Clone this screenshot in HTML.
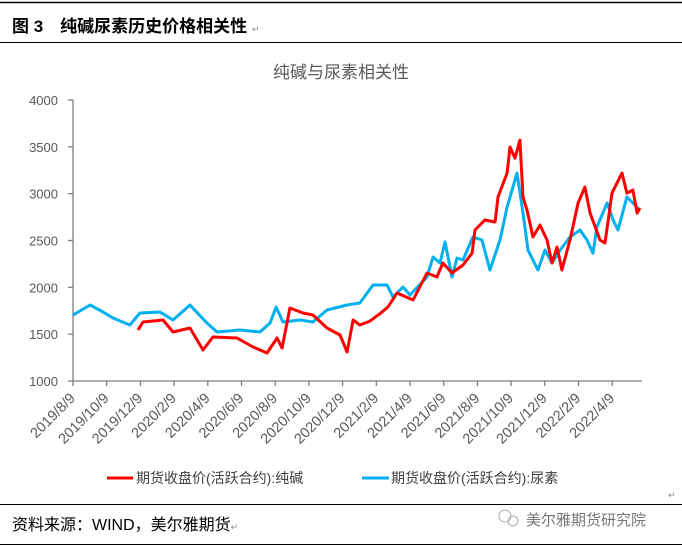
<!DOCTYPE html>
<html><head><meta charset="utf-8">
<style>
body{margin:0;width:682px;height:546px;background:#fff;overflow:hidden;font-family:"Liberation Sans","Noto Sans CJK SC",sans-serif;}
svg{display:block}
</style></head>
<body>
<svg id="chart" width="682" height="546" xmlns="http://www.w3.org/2000/svg">
<line x1="0" y1="2.5" x2="682" y2="2.5" stroke="#000" stroke-width="1.5"/>
<text x="12" y="32" font-size="17" font-weight="bold" fill="#000" font-family="Liberation Sans,Noto Sans CJK SC,sans-serif">图 3　纯碱尿素历史价格相关性 <tspan font-size="9" font-weight="normal" fill="#888">↵</tspan></text>
<line x1="0" y1="42.5" x2="682" y2="42.5" stroke="#000" stroke-width="1"/>
<text x="341" y="78" text-anchor="middle" font-size="17" fill="#595959">纯碱与尿素相关性</text>
<g id="yaxis"></g>
<g id="xaxis"></g>
<g id="series"></g>
<g>
 <g>
  <line x1="107" y1="478" x2="133" y2="478" stroke="#ff0000" stroke-width="3"/>
  <text x="136" y="483" font-size="14" fill="#404040">期货收盘价(活跃合约):纯碱</text>
 </g>
 <g>
  <line x1="362" y1="478" x2="389" y2="478" stroke="#00b0f0" stroke-width="3"/>
  <text x="391" y="483" font-size="14" fill="#404040">期货收盘价(活跃合约):尿素</text>
 </g>
</g>
<text x="668" y="498" font-size="9" fill="#888">↵</text>
<line x1="0" y1="504.5" x2="682" y2="504.5" stroke="#000" stroke-width="1"/>
<text x="12" y="530" font-size="16" fill="#000">资料来源：WIND，美尔雅期货<tspan font-size="9" fill="#888">↵</tspan></text>
<g>
 <circle cx="505" cy="516" r="6" fill="none" stroke="#aaa" stroke-width="1"/>
 <circle cx="513" cy="521" r="5" fill="none" stroke="#aaa" stroke-width="1"/>
 <text x="526" y="525" font-size="15" fill="#777">美尔雅期货研究院</text>
</g>
<line x1="0" y1="544.5" x2="682" y2="544.5" stroke="#000" stroke-width="1"/>
</svg>
<script>
const yTicks=[1000,1500,2000,2500,3000,3500,4000];
const xTickLabels=["2019/8/9","2019/10/9","2019/12/9","2020/2/9","2020/4/9","2020/6/9","2020/8/9","2020/10/9","2020/12/9","2021/2/9","2021/4/9","2021/6/9","2021/8/9","2021/10/9","2021/12/9","2022/2/9","2022/4/9"];
const xTickMonths=[0,2,4,6,8,10,12,14,16,18,20,22,24,26,28,30,32];
// months since 2019/8/9
const sodaMonths=[3.79,4.08,5.25,5.83,6.82,7.58,8.16,9.56,10.5,11.31,11.9,12.19,12.65,13.41,13.99,14.81,15.57,15.98,16.33,16.73,17.32,17.9,18.37,18.89,19.83,20.64,21.22,21.57,22.1,22.74,23.27,23.44,24.02,24.61,24.78,25.31,25.48,25.77,26.06,26.24,26.47,26.82,27.23,27.64,27.93,28.22,28.51,28.98,29.45,29.85,30.15,30.73,31.02,31.43,32.01,32.3,32.65,32.89,33.06];
const sodaValues=[1544,1630,1651,1523,1566,1331,1470,1459,1363,1299,1459,1352,1779,1726,1705,1566,1491,1310,1651,1598,1640,1720,1790,1939,1865,2153,2110,2260,2153,2238,2366,2612,2719,2697,2964,3220,3498,3380,3572,2964,2825,2537,2665,2505,2260,2430,2185,2505,2900,3070,2793,2505,2473,3006,3220,3006,3038,2793,2847];
const ureaMonths=[0,1.0,1.75,2.33,3.32,3.9,5.07,5.83,6.82,7.81,8.4,9.74,10.9,11.49,11.84,12.24,13.24,13.99,14.81,15.98,16.73,17.49,18.31,18.66,19.24,19.65,20.64,20.99,21.4,21.69,22.1,22.39,22.74,23.32,23.85,24.31,24.9,25.31,25.89,26.24,26.53,27.11,27.52,27.93,28.4,28.98,29.56,29.97,30.32,30.55,31.14,31.49,31.78,32.3,32.94];
const ureaValues=[1705,1811,1737,1673,1598,1726,1737,1651,1811,1619,1523,1544,1523,1619,1790,1630,1651,1630,1758,1811,1833,2025,2025,1897,2004,1918,2110,2324,2260,2484,2110,2313,2292,2537,2505,2185,2505,2857,3220,2793,2398,2185,2398,2260,2398,2537,2612,2505,2366,2644,2900,2719,2612,2964,2847];

const NS="http://www.w3.org/2000/svg";
const X0=73,X1=642,Y0=381,Y1=100;
const xScale=m=>X0+m*17.15;
const yScale=v=>Y0-(v-1000)/(4000-1000)*(Y0-Y1);
function mk(tag,attrs,parent){const e=document.createElementNS(NS,tag);for(const k in attrs)e.setAttribute(k,attrs[k]);parent.appendChild(e);return e;}
const ya=document.getElementById('yaxis'),xa=document.getElementById('xaxis'),sg=document.getElementById('series');
const yl=mk('line',{x1:X0,y1:Y1,x2:X0,y2:Y0,stroke:'#7f7f7f','stroke-width':1.3},ya);


yTicks.forEach(v=>{
 const y=yScale(v);
 const t=mk('line',{x1:X0-5,y1:y,x2:X0,y2:y,stroke:'#7f7f7f','stroke-width':1.3},ya);
 
 
 const l=mk('text',{x:X0-15,y:y+5,'text-anchor':'end','font-size':13,fill:'#595959'},ya);
 l.textContent=v;
 
 
});
const xl=mk('line',{x1:X0,y1:Y0,x2:X1,y2:Y0,stroke:'#7f7f7f','stroke-width':1.3},xa);


xTickMonths.forEach((m,i)=>{
 const x=X0+m*16.85;
 const t=mk('line',{x1:x,y1:Y0,x2:x,y2:Y0+5,stroke:'#7f7f7f','stroke-width':1.3},xa);
 
 
 const l=mk('text',{x:0,y:0,'text-anchor':'end','font-size':14.5,fill:'#595959',transform:`translate(${x+3},${Y0+18}) rotate(-45)`},xa);
 l.textContent=xTickLabels[i];
 
 
});
function line(ms,vs,color,name){
 const d=ms.map((m,i)=>(i?'L':'M')+xScale(m).toFixed(1)+','+yScale(vs[i]).toFixed(1)).join('');
 const p=mk('path',{d:d,fill:'none',stroke:color,'stroke-width':3,'stroke-linejoin':'round'},sg);
 
 
}
line(ureaMonths,ureaValues,'#00b0f0','urea-line');
line(sodaMonths,sodaValues,'#ff0000','soda-ash-line');
</script>
</body></html>
